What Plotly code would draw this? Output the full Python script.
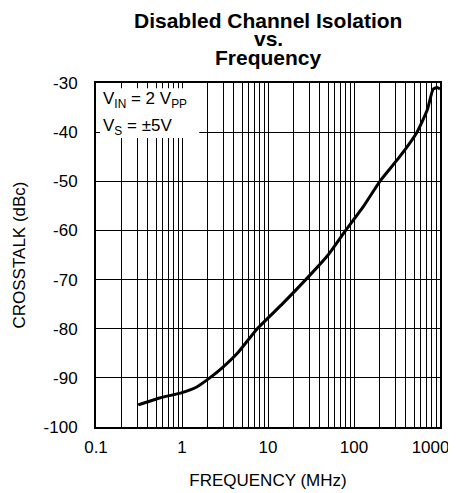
import plotly.graph_objects as go

freq_mhz = [0.31, 0.55, 1.0, 1.5, 2.1, 3.0, 4.4, 7.5, 15, 30, 50, 80, 130, 200, 340, 540, 710, 830, 920, 1000]
crosstalk_dbc = [-95.5, -94.1, -93.0, -91.8, -90.0, -87.8, -85.0, -80.0, -74.8, -69.3, -65.0, -60.0, -55.0, -50.0, -45.0, -40.0, -35.5, -31.3, -30.9, -31.2]

x_tickvals = [0.1, 1, 10, 100, 1000]
x_ticktext = ["0.1", "1", "10", "100", "1000<span style='color:rgba(0,0,0,0)'>00</span>"]
y_tickvals = [-100, -90, -80, -70, -60, -50, -40, -30]
y_ticktext = ["-100", "-90", "-80", "-70", "-60", "-50", "-40", "-30"]

FAM = "Liberation Sans, Arial, sans-serif"
font = dict(family=FAM, size=17, color="black")

fig = go.Figure()
fig.add_trace(go.Scatter(x=freq_mhz, y=crosstalk_dbc, mode="lines",
                         line=dict(color="black", width=3, shape="spline", smoothing=0.5),
                         showlegend=False, hoverinfo="skip"))

# page body has an 8px margin, so the figure is shrunk by that amount
fig.update_layout(
    width=448, height=485,
    margin=dict(l=88, r=16, t=75, b=66),
    paper_bgcolor="white", plot_bgcolor="white",
    font=font,
    xaxis=dict(type="log", range=[-1, 3], tickvals=x_tickvals, ticktext=x_ticktext,
               showgrid=True, gridcolor="black", gridwidth=1,
               minor=dict(showgrid=True, gridcolor="black", gridwidth=1, dtick="D1", ticks=""),
               showline=True, linecolor="black", linewidth=2, mirror=True,
               ticks="", zeroline=False, ticklabelstandoff=4, tickfont=font,
               ticklabeloverflow="allow", automargin=False,
               title=dict(text="FREQUENCY (MHz)", standoff=18, font=font)),
    yaxis=dict(range=[-100, -30], tickvals=y_tickvals, ticktext=y_ticktext,
               showgrid=True, gridcolor="black", gridwidth=1,
               showline=True, linecolor="black", linewidth=2, mirror=True,
               ticks="", zeroline=False, ticklabelstandoff=13, tickfont=font,
               automargin=False,
               title=dict(text="CROSSTALK (dBc)", standoff=14, font=font)),
)

# white legend box behind the condition text
fig.add_shape(type="rect", xref="paper", yref="paper", x0=0.012, x1=0.30, y0=0.840, y1=0.985,
              fillcolor="white", line=dict(width=0), layer="above")

tfont = dict(family=FAM, size=21, color="black")
for txt, yy in [("<b>Disabled Channel Isolation</b>", 1.183),
                ("<b>vs.</b>", 1.128),
                ("<b>Frequency</b>", 1.073)]:
    fig.add_annotation(xref="paper", yref="paper", x=0.5, y=yy, xanchor="center", yanchor="middle",
                       text=txt, showarrow=False, font=tfont)

fig.add_annotation(xref="paper", yref="paper", x=0.015, y=0.951, xanchor="left", yanchor="middle",
                   text="V<sub>IN</sub> = 2 V<sub>PP</sub>", showarrow=False, align="left", font=font)
fig.add_annotation(xref="paper", yref="paper", x=0.015, y=0.872, xanchor="left", yanchor="middle",
                   text="V<sub>S</sub> = ±5V", showarrow=False, align="left", font=font)

fig.write_html("out.html")
